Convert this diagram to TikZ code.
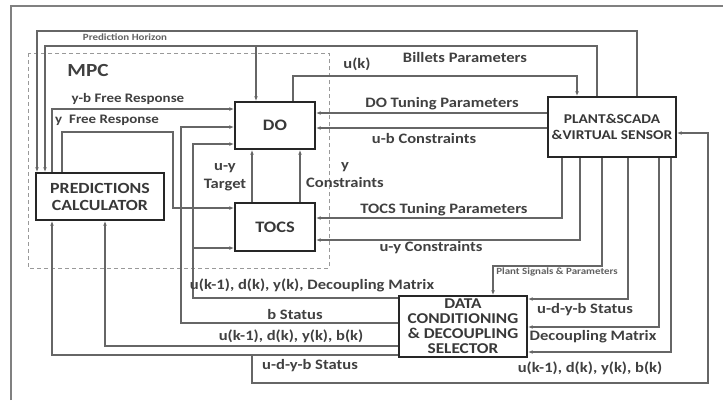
\documentclass[tikz,border=0pt]{standalone}
\usepackage{fontspec}
\setmainfont{Carlito}[FakeStretch=1.15]
\usetikzlibrary{arrows.meta}
\begin{document}
\begin{tikzpicture}[x=1pt,y=-1pt,
  wire/.style={draw=black!60, line width=1.3pt},
  arr/.style={wire, -{Latex[length=4.5pt,width=3.8pt]}},
  block/.style={draw=black!85, line width=2.2pt, fill=white, align=center,
    font=\bfseries\fontsize{15.5}{17}\selectfont, text=black!78, inner sep=0pt},
  lbl/.style={font=\bfseries\fontsize{14.4}{17.5}\selectfont, text=black!75, inner sep=0pt, align=center},
  frl/.style={lbl, font=\bfseries\fontsize{13}{15}\selectfont},
  tiny/.style={font=\bfseries\fontsize{9.5}{10}\selectfont, text=black!62, inner sep=0pt}]
\useasboundingbox (0,0) rectangle (723,400);

% outer frame
\draw[black!50, line width=1.5pt] (11,400) -- (11,6) -- (723,6);

% MPC region
\draw[black!40, line width=1pt, dash pattern=on 4pt off 3pt] (28,53) rectangle (329,268);
\node[lbl, font=\bfseries\fontsize{18.5}{20}\selectfont] (mpc) at (88,70) {MPC};

% blocks
\node[block, minimum width=128pt, minimum height=60pt, font=\bfseries\fontsize{13.4}{16}\selectfont] (plant) at (612,127) {PLANT\&SCADA\\\&VIRTUAL SENSOR};
\node[block, minimum width=80pt, minimum height=47pt, font=\bfseries\fontsize{16}{17}\selectfont] (do) at (275,125.5) {DO};
\node[block, minimum width=80pt, minimum height=48pt, font=\bfseries\fontsize{16}{17}\selectfont] (tocs) at (275,227) {TOCS};
\node[block, minimum width=128pt, minimum height=47pt] (pred) at (100,196.5) {PREDICTIONS\\CALCULATOR};
\node[block, minimum width=128pt, minimum height=61pt, font=\bfseries\fontsize{15}{15}\selectfont] (data) at (463,326.5) {DATA\\CONDITIONING\\\& DECOUPLING\\SELECTOR};

% anchor points on the block sides
\coordinate (phA) at ([xshift=25pt]plant.north);
\coordinate (phB) at ([xshift=-63pt]pred.north);
\coordinate (bpA) at ([xshift=-15pt]plant.north);
\coordinate (bpB) at ([xshift=-55pt]pred.north);
\coordinate (bpC) at ([xshift=-19pt]do.north);
\coordinate (ukA) at ([xshift=18pt]do.north);
\coordinate (ukB) at ([xshift=-35pt]plant.north);
\coordinate (dtA) at ([yshift=14pt]plant.west);
\coordinate (ubA) at ([yshift=-1pt]plant.west);
\coordinate (ttA) at ([xshift=-50pt]plant.south);
\coordinate (ucA) at ([xshift=-32pt]plant.south);
\coordinate (psA) at ([xshift=-10pt]plant.south);
\coordinate (psB) at ([xshift=30pt]data.north);
\coordinate (usA) at ([xshift=16pt]plant.south);
\coordinate (dmA) at ([xshift=47pt]plant.south);
\coordinate (svA) at ([xshift=59pt]plant.south);
\coordinate (fbA) at ([yshift=-6pt]plant.east);
\coordinate (ybA) at ([xshift=-48pt]pred.north);
\coordinate (yfA) at ([xshift=-38pt]pred.north);
\coordinate (sdA) at ([xshift=-48pt]pred.south);
\coordinate (sbA) at ([xshift=5pt]pred.south);
\coordinate (tgA) at ([xshift=-23pt]tocs.north);
\coordinate (tgB) at ([xshift=-23pt]do.south);
\coordinate (ycA) at ([xshift=25pt]tocs.north);
\coordinate (ycB) at ([xshift=25pt]do.south);

% PLANT top outputs
\draw[arr] (phA) |- (37,31) -- (phB);
\node[tiny] (phl) at (125,37.5) {Prediction Horizon};
\draw[arr] (bpA) |- (45,46) -- (bpB);
\draw[arr] (256,46) -- (bpC);
\node[lbl] (bpl) at (465,57) {Billets Parameters};
\draw[arr] (ukA) |- (577,76) -- (ukB);
\node[lbl] (ukl) at (357,64) {u(k)};

% PLANT to DO
\draw[arr] (dtA) -- (dtA -| do.east);
\node[lbl] (dtl) at (442,104) {DO Tuning Parameters};
\draw[arr] (ubA) -- (ubA -| do.east);
\node[lbl] (ubl) at (424,138) {u-b Constraints};

% PLANT to TOCS
\draw[arr] (ttA) |- (tocs.east |- 0,218);
\node[lbl] (ttl) at (444,210) {TOCS Tuning Parameters};
\draw[arr] (ucA) |- (tocs.east |- 0,240);
\node[lbl] (ucl) at (431,248) {u-y Constraints};

% PLANT to DATA
\draw[arr] (psA) |- (493,266) -- (psB);
\node[tiny] (psl) at (557,272) {Plant Signals \& Parameters};
\draw[arr] (usA) |- (data.east |- 0,299);
\node[lbl] (usl) at (585,310) {u-d-y-b Status};
\draw[arr] (dmA) |- (data.east |- 0,327);
\node[lbl] (dml) at (593,337) {Decoupling Matrix};
\draw[arr] (svA) |- (data.east |- 0,352);
\node[lbl] (svl) at (590,368) {u(k-1), d(k), y(k), b(k)};

% DATA outputs
\draw[arr] (data.west |- 0,355) -| (sdA);
\draw[arr] (252,355) -- (252,383) -| (708,133) -- (fbA);
\node[lbl] (sdl) at (310,366) {u-d-y-b Status};
\draw[arr] (data.west |- 0,346) -| (sbA);
\node[lbl] (sbl) at (291,336) {u(k-1), d(k), y(k), b(k)};
\draw[arr] (data.west |- 0,323) -- (181,323) |- (do.west |- 0,127);
\node[lbl] (bsl) at (295,314) {b Status};
\draw[arr] (data.west |- 0,298) -- (193,298) |- (do.west |- 0,144);
\draw[arr] (193,248) -- (tocs.west |- 0,248);
\node[lbl] (dcl) at (312,285) {u(k-1), d(k), y(k), Decoupling Matrix};

% PREDICTIONS outputs
\draw[arr] (ybA) |- (do.west |- 0,109);
\node[frl] (ybl) at (128,99) {y-b Free Response};
\draw[arr] (yfA) |- (173,132) |- (tocs.west |- 0,208);
\node[frl] (yfl) at (107,120) {y\; Free Response};

% TOCS to DO
\draw[arr] (tgA) -- (tgB);
\node[lbl] (tgl) at (225,177) {u-y\\Target};
\draw[arr] (ycA) -- (ycB);
\node[lbl] (ycl) at (345,175) {y\\Constraints};

\end{tikzpicture}
\end{document}
